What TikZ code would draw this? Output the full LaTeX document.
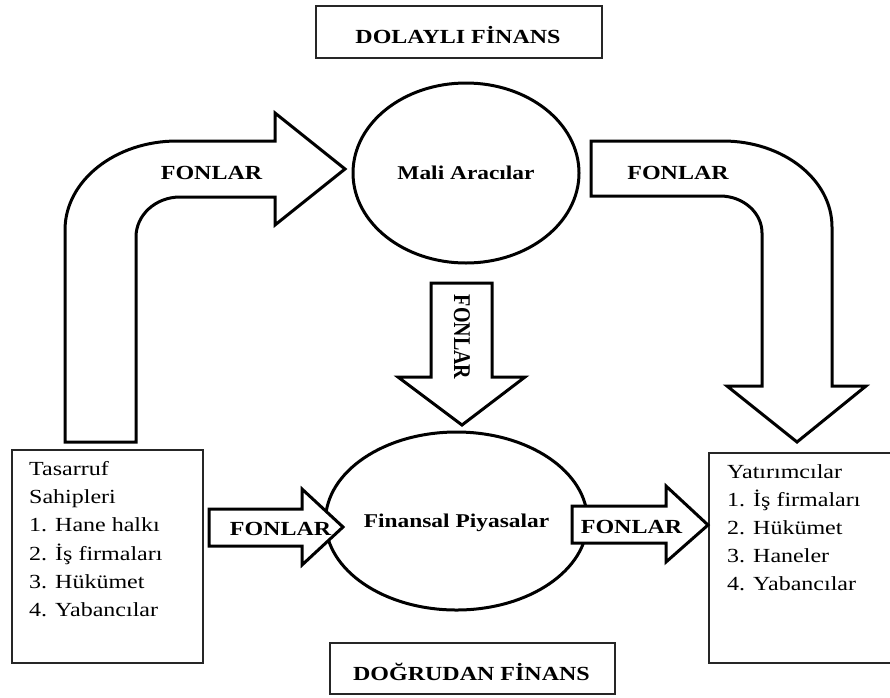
\documentclass[tikz,border=0pt]{standalone}
\usepackage{fontspec}
\setmainfont{Liberation Serif}[FakeStretch=1.2]
\newfontfamily\vfont{Liberation Serif}
\usetikzlibrary{shapes.geometric}
\begin{document}
\begin{tikzpicture}[x=1pt,y=-1pt,
  blockarrow/.style={draw=black, line width=3pt, line join=miter, fill=white},
  oval/.style={draw=black, line width=3pt, ellipse, inner sep=0pt, fill=white,
    font=\fontsize{19.5}{24}\selectfont\bfseries},
  framebox/.style={draw=black!85, line width=1.6pt, inner sep=0pt, anchor=north west},
  lbl/.style={font=\fontsize{20}{24}\selectfont\bfseries, inner sep=0pt},
  item/.style={font=\fontsize{20}{24}\selectfont, inner sep=0pt, anchor=base west}
]
\useasboundingbox[fill=white] (0,0) rectangle (890,697);

% boxes
\node[framebox, minimum width=286pt, minimum height=52pt] (dolayli) at (315,5) {};
\node[lbl, anchor=base] (dolaylitxt) at (458,43.3) {DOLAYLI FİNANS};
\node[framebox, minimum width=285pt, minimum height=51pt] (dogrudan) at (329,642) {};
\node[lbl, anchor=base] (dogrudantxt) at (471.5,680) {DOĞRUDAN FİNANS};

\node[framebox, minimum width=191pt, minimum height=213pt] (tasbox) at (11,449) {};
\node[framebox, minimum width=200pt, minimum height=210pt] (yatbox) at (708,452) {};

% left box text
\node[item] (t1) at (29,475) {Tasarruf};
\node[item] (t2) at (29,503.3) {Sahipleri};
\node[item] (t3) at (29,531.6) {1. Hane halkı};
\node[item] (t4) at (29,560) {2. İş firmaları};
\node[item] (t5) at (29,588.3) {3. Hükümet};
\node[item] (t6) at (29,616.6) {4. Yabancılar};

% right box text
\node[item] (y1) at (727,478) {Yatırımcılar};
\node[item] (y2) at (727,506) {1. İş firmaları};
\node[item] (y3) at (727,534) {2. Hükümet};
\node[item] (y4) at (727,562) {3. Haneler};
\node[item] (y5) at (727,590) {4. Yabancılar};

% ellipses
\node[oval, minimum width=226pt, minimum height=180pt, text depth=0pt] (mali) at (466,173) {Mali Aracılar};
\node[oval, minimum width=223pt, minimum height=178pt, text depth=0pt] (finans) at (456.5,521) {Finansal Piyasalar};

% left curved arrow
\draw[blockarrow] (65,442) -- (65,230)
  .. controls (65,180.8) and (115.1,141) .. (177,141)
  -- (275,141) -- (275,113) -- (345,169) -- (275,225) -- (275,197) -- (180,197)
  .. controls (155.7,197) and (136,214.9) .. (136,237)
  -- (136,442) -- cycle;
\node[lbl] (f1) at (211.5,173) {FONLAR};

% right curved arrow
\draw[blockarrow] (591,141) -- (723,141)
  .. controls (783.2,141) and (832,179.5) .. (832,227)
  -- (832,386) -- (866,386) -- (797,442) -- (727,386) -- (762,386) -- (762,233)
  .. controls (762,212.6) and (743.2,196) .. (720,196)
  -- (591,196) -- cycle;
\node[lbl] (f2) at (678,173) {FONLAR};

% middle down arrow
\draw[blockarrow] (431,283) -- (492,283) -- (492,377) -- (525,377) -- (462,425)
  -- (398,377) -- (431,377) -- cycle;
\node[inner sep=0pt, rotate=-90, font=\vfont\fontsize{20}{24}\selectfont\bfseries]
  (f3) at (462,337) {\scalebox{1}[1.2]{FONLAR}};

% small horizontal arrows
\draw[blockarrow] (209,509) -- (302,509) -- (302,489) -- (343,527) -- (302,565)
  -- (302,546) -- (209,546) -- cycle;
\node[lbl] (f4) at (280.5,529) {FONLAR};
\draw[blockarrow] (572,506) -- (666,506) -- (666,486) -- (708,525) -- (666,562)
  -- (666,543) -- (572,543) -- cycle;
\node[lbl] (f5) at (631.5,527) {FONLAR};
\end{tikzpicture}
\end{document}
